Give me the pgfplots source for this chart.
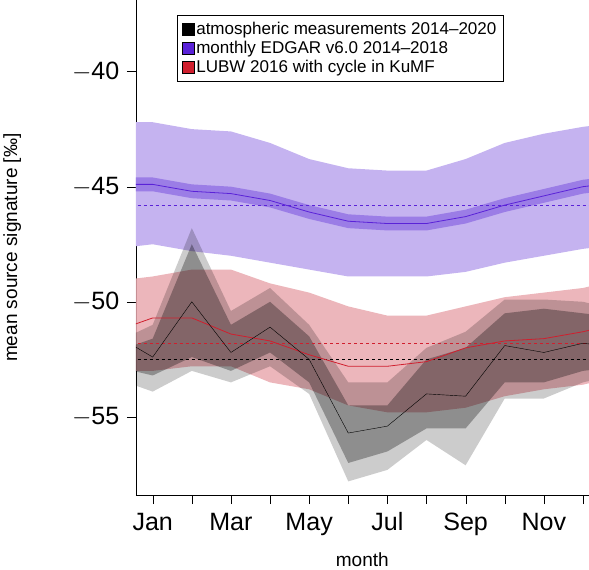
\documentclass[border=0pt]{standalone}
\usepackage{pgfplots}
\pgfplotsset{compat=1.18}
\usepgfplotslibrary{fillbetween}
\usepackage{fontspec}
\setmainfont{Liberation Sans}
\definecolor{pline}{HTML}{5A22D8}
\definecolor{pinner}{HTML}{9B7DE6}
\definecolor{pouter}{HTML}{C5B3F0}
\definecolor{rline}{HTML}{D01F2E}
\definecolor{router}{HTML}{E9A9AF}
\begin{document}
\begin{tikzpicture}
\begin{axis}[
  scale only axis, width=452pt, height=494pt,
  xmin=0.57, xmax=12.15, ymin=-58.4, ymax=-36.9,
  axis x line*=bottom, axis y line*=left,
  xtick={1,...,12}, xticklabels={Jan,,Mar,,May,,Jul,,Sep,,Nov,},
  ytick={-40,-45,-50,-55}, yticklabels={$-$40,$-$45,$-$50,$-$55},
  tick style={black}, major tick length=9pt, tick align=outside,
  ticklabel style={font=\fontsize{25}{28}\selectfont},
  yticklabel style={xshift=-4pt},
  xticklabel style={yshift=-5pt},
  xlabel={month}, ylabel={mean source signature [‰]},
  label style={font=\fontsize{19}{22}\selectfont},
  ylabel style={yshift=44pt},
  xlabel style={yshift=-10pt},
  /pgf/number format/assume math mode=true,
  legend style={at={(0.09,0.97)}, anchor=north west, font=\fontsize{17}{20}\selectfont, draw=black, row sep=1pt, inner sep=5pt},
  legend cell align=left,
  legend image code/.code={\fill[#1] (0pt,-6pt) rectangle (12pt,6pt);},
  clip=true,
]
\addplot[name path=pou, draw=none, forget plot] coordinates {(0.5,-42.2)(1,-42.2)(2,-42.5)(3,-42.6)(4,-43.1)(5,-43.8)(6,-44.2)(7,-44.3)(8,-44.3)(9,-43.8)(10,-43.1)(11,-42.7)(12,-42.4)(12.5,-42.3)};
\addplot[name path=pol, draw=none, forget plot] coordinates {(0.5,-47.6)(1,-47.5)(2,-47.8)(3,-48.0)(4,-48.3)(5,-48.6)(6,-48.9)(7,-48.9)(8,-48.9)(9,-48.7)(10,-48.3)(11,-48.0)(12,-47.7)(12.5,-47.6)};
\addplot[fill=pouter, draw=none, forget plot] fill between[of=pou and pol];
\addplot[name path=piu, draw=none, forget plot] coordinates {(0.5,-44.6)(1,-44.6)(2,-44.9)(3,-45.0)(4,-45.3)(5,-45.8)(6,-46.2)(7,-46.3)(8,-46.3)(9,-46.0)(10,-45.5)(11,-45.1)(12,-44.7)(12.5,-44.6)};
\addplot[name path=pil, draw=none, forget plot] coordinates {(0.5,-45.2)(1,-45.2)(2,-45.5)(3,-45.6)(4,-45.9)(5,-46.4)(6,-46.8)(7,-46.9)(8,-46.9)(9,-46.6)(10,-46.1)(11,-45.7)(12,-45.3)(12.5,-45.2)};
\addplot[fill=pinner, draw=none, forget plot] fill between[of=piu and pil];
\addplot[name path=rou, draw=none, forget plot] coordinates {(0.5,-49.0)(1,-48.9)(2,-48.6)(3,-48.6)(4,-49.2)(5,-49.6)(6,-50.2)(7,-50.6)(8,-50.6)(9,-50.2)(10,-49.8)(11,-49.6)(12,-49.4)(12.5,-49.2)};
\addplot[name path=rol, draw=none, forget plot] coordinates {(0.5,-53.0)(1,-53.0)(2,-52.8)(3,-52.8)(4,-53.5)(5,-53.8)(6,-54.5)(7,-54.8)(8,-54.8)(9,-54.6)(10,-54.1)(11,-53.8)(12,-53.6)(12.5,-53.4)};
\addplot[fill=router, fill opacity=0.85, draw=none, forget plot] fill between[of=rou and rol];
\addplot[name path=gou, draw=none, forget plot] coordinates {(0.5,-51.4)(1,-51.0)(2,-46.8)(3,-50.4)(4,-49.4)(5,-51.0)(6,-53.5)(7,-53.5)(8,-52.0)(9,-51.3)(10,-49.9)(11,-49.9)(12,-50.0)(12.5,-50.2)};
\addplot[name path=gol, draw=none, forget plot] coordinates {(0.5,-53.6)(1,-53.9)(2,-53.0)(3,-53.5)(4,-52.8)(5,-54.0)(6,-57.8)(7,-57.3)(8,-56.0)(9,-57.1)(10,-54.2)(11,-54.2)(12,-53.5)(12.5,-53.3)};
\addplot[fill=black, fill opacity=0.2, draw=none, forget plot] fill between[of=gou and gol];
\addplot[name path=giu, draw=none, forget plot] coordinates {(0.5,-51.9)(1,-51.6)(2,-47.5)(3,-51.0)(4,-50.0)(5,-51.5)(6,-54.5)(7,-54.5)(8,-52.5)(9,-52.0)(10,-50.5)(11,-50.3)(12,-50.5)(12.5,-50.6)};
\addplot[name path=gil, draw=none, forget plot] coordinates {(0.5,-53.0)(1,-53.2)(2,-52.4)(3,-53.0)(4,-52.2)(5,-53.5)(6,-57.0)(7,-56.5)(8,-55.5)(9,-55.5)(10,-53.5)(11,-53.5)(12,-53.0)(12.5,-52.9)};
\addplot[fill=black, fill opacity=0.3, draw=none, forget plot] fill between[of=giu and gil];
\addplot[pline, semithick, dashed, forget plot] coordinates {(0,-45.8)(13,-45.8)};
\addplot[rline, semithick, dashed, forget plot] coordinates {(0,-51.8)(13,-51.8)};
\addplot[black, semithick, dashed, forget plot] coordinates {(0,-52.5)(13,-52.5)};
\addplot[pline, thick, forget plot] coordinates {(0.5,-44.9)(1,-44.9)(2,-45.2)(3,-45.3)(4,-45.6)(5,-46.1)(6,-46.5)(7,-46.6)(8,-46.6)(9,-46.3)(10,-45.8)(11,-45.4)(12,-45.0)(12.5,-44.9)};
\addplot[rline, thick, forget plot] coordinates {(0.5,-51.0)(1,-50.7)(2,-50.7)(3,-51.4)(4,-51.7)(5,-52.3)(6,-52.8)(7,-52.8)(8,-52.6)(9,-52.0)(10,-51.7)(11,-51.6)(12,-51.3)(12.5,-51.1)};
\addplot[black, forget plot] coordinates {(0.5,-51.9)(1,-52.4)(2,-50.0)(3,-52.2)(4,-51.1)(5,-52.5)(6,-55.7)(7,-55.4)(8,-54.0)(9,-54.1)(10,-51.9)(11,-52.2)(12,-51.8)(12.5,-51.9)};
\addlegendimage{fill=black, draw=black}
\addlegendentry{atmospheric measurements 2014–2020}
\addlegendimage{fill=pline, draw=black}
\addlegendentry{monthly EDGAR v6.0 2014–2018}
\addlegendimage{fill=rline, draw=black}
\addlegendentry{LUBW 2016 with cycle in KuMF}
\end{axis}
\end{tikzpicture}
\end{document}
